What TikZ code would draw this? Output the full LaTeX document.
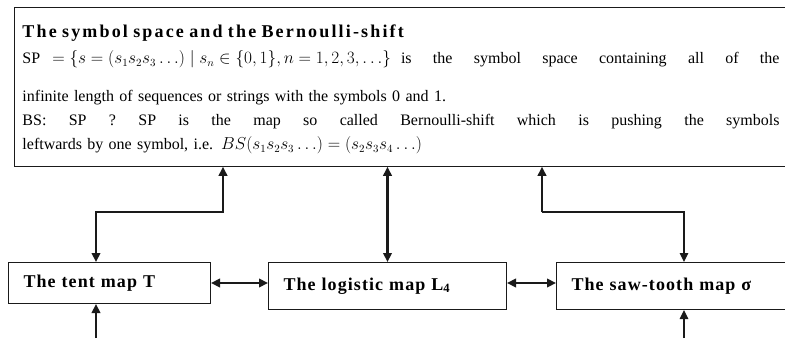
\documentclass[tikz,border=0pt]{standalone}
\usepackage{fontspec}
\setmainfont{Liberation Serif}
\newfontfamily\titlefont[LetterSpace=12]{Liberation Serif}
\newfontfamily\labelfont[LetterSpace=6]{Liberation Serif}
\usetikzlibrary{arrows.meta,positioning,calc}
\definecolor{ink}{HTML}{1A1A1A}
\newcommand\fullline[1]{\makebox[757pt][s]{\spaceskip=0pt\xspaceskip=0pt\relax #1}}
\tikzset{
  symbox/.style={rectangle,draw=ink,line width=1pt,anchor=north west,align=left,text width=757pt,inner xsep=8pt,inner ysep=12pt,font=\fontsize{16}{25}\selectfont},
  mapbox/.style={rectangle,draw=ink,line width=1pt,anchor=north west,align=left,inner xsep=15pt,inner ysep=0pt,font=\labelfont\bfseries\fontsize{18}{22}\selectfont},
  biarrow/.style={{Triangle[length=9pt,width=8.5pt]}-{Triangle[length=9pt,width=8.5pt]},line width=2.2pt,ink},
  uparrow/.style={-{Triangle[length=9pt,width=8.5pt]},line width=2.2pt,ink},
  thinarrow/.style={-{Triangle[length=9pt,width=8.5pt]},line width=1.2pt,ink}
}
\begin{document}
\begin{tikzpicture}[x=1pt,y=1pt]
        \useasboundingbox (0,0) rectangle (785,338);
        \clip (0,0) rectangle (785,338);
        \node[symbox] (sym) at (14,331) {%
          {\titlefont\bfseries\fontsize{18}{25}\selectfont\rule{0pt}{18.5pt}The symbol space and the Bernoulli-shift}\\[1pt]
          \fullline{SP\hspace{12pt}\mbox{$=\bigl\{ s=(s_1s_2s_3\ldots)\mid s_n\in\{0,1\}, n=1,2,3,\ldots\bigr\}$}\hspace{10pt}is the symbol space containing all of the}\\[13pt]
          infinite length of sequences or strings with the symbols 0 and 1.\\[-1pt]
          \fullline{BS: SP ? SP is the map so called Bernoulli-shift which is pushing the symbols}\\[-1pt]
          leftwards by one symbol, i.e. $BS(s_1s_2s_3\ldots)=(s_2s_3s_4\ldots)$};
        \node[mapbox,text width=172pt,minimum height=41pt] (tent) at (8,76) {The tent map T};
        \node[mapbox,text width=208pt,minimum height=47pt] (logi) at (268,76) {The logistic map L\textsubscript{4}};
        \node[mapbox,text width=230pt,minimum height=47pt] (saw) at (556,76) {The saw-tooth map σ};
        % bends and free ends
        \coordinate (symleft) at (223,126);
        \coordinate (symright) at (542,126);
        \coordinate (tentin) at (96,0);
        \coordinate (sawin) at (684,0);
        \draw[biarrow] (sym.south -| symleft) -- (symleft) -| (tent.north -| tentin);
        \draw[biarrow] (sym.south -| logi.north) -- (logi.north);
        \draw[uparrow] (symright) -- (sym.south -| symright);
        \draw[thinarrow] (symright) -| (saw.north -| sawin);
        \draw[biarrow] (tent.east) -- (tent.east -| logi.west);
        \draw[biarrow] (logi.east |- tent.east) -- (saw.west |- tent.east);
        \draw[uparrow] (tentin) -- (tent.south -| tentin);
        \draw[thinarrow] (sawin) -- (saw.south -| sawin);
      \end{tikzpicture}
\end{document}
